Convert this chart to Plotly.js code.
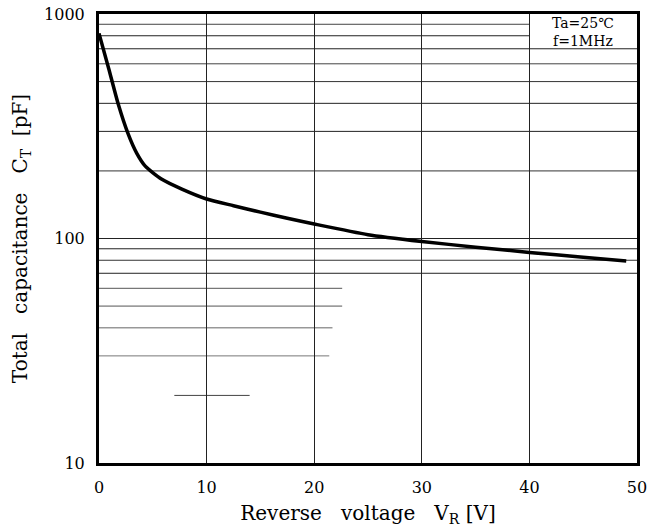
<!DOCTYPE html>
<html>
<head>
<meta charset="utf-8">
<script src="https://cdn.plot.ly/plotly-3.0.1.min.js"></script>
<style>html,body{margin:0;padding:0;background:#fff;}#chart{width:662px;height:530px;}</style>
</head>
<body>
<div id="chart"></div>
<script>
// Data
const reverseVoltage = [0, 0.9, 1.8, 2.7, 3.5, 4.3, 5.8, 7.7, 10, 12.5, 15, 17.5, 20, 25, 30, 35, 40, 45, 49];
const totalCapacitance = [820, 572, 395, 293, 240, 210, 184, 166, 150, 140, 131, 123, 116, 104, 97, 91.5, 86.7, 82.5, 79.3];

// Axis ticks
const xTickVals = [0, 10, 20, 30, 40, 50];
const xTickText = ['0', '10', '20', '30', '40', '50'];
const yTickVals = [10, 100, 1000];
const yTickText = ['10', '100', '1000'];

// Horizontal grid values (log minor lines)
const hGridVals = [20, 30, 40, 50, 60, 70, 80, 90, 100, 200, 300, 400, 500, 600, 700, 800, 900];
// grid line extents / shades (layout only)
const hGridStart = [7, 0, 0, 0, 0, 0, 0, 0, 0, 0, 0, 0, 0, 0, 0, 0, 0];
const hGridEnd   = [14, 21.4, 21.7, 22.6, 22.6, 50, 50, 50, 50, 50, 50, 50, 50, 50, 50, 40, 40];
const hGridColor = ['#444', '#777', '#666', '#555', '#555', '#222', '#333', '#222', '#222', '#333', '#222', '#222', '#333', '#444', '#222', '#222', '#444'];

const shapes = hGridVals.map((v, i) => ({
  type: 'line', xref: 'x', yref: 'y', layer: 'below',
  x0: hGridStart[i], x1: hGridEnd[i], y0: v, y1: v,
  line: {color: hGridColor[i], width: 1}
}));

const serif = 'DejaVu Serif, Liberation Serif, serif';
const NB = '\u00A0';

const trace = {
  x: reverseVoltage, y: totalCapacitance,
  type: 'scatter', mode: 'lines',
  line: {color: '#000', width: 3.5, shape: 'spline', smoothing: 0.6},
  hoverinfo: 'x+y'
};

const layout = {
  width: 662, height: 530,
  margin: {l: 99, r: 25, t: 14, b: 67},
  paper_bgcolor: '#fff', plot_bgcolor: '#fff',
  showlegend: false,
  font: {family: serif, color: '#000', size: 16},
  xaxis: {
    range: [0, 50], tickvals: xTickVals, ticktext: xTickText,
    showgrid: true, gridcolor: '#222', gridwidth: 1,
    zeroline: false, showline: true, mirror: true, linecolor: '#000', linewidth: 3,
    ticks: '', ticklabelstandoff: 8,
    tickfont: {family: serif, size: 16, color: '#000'},
    title: {text: NB + NB + NB + 'Reverse' + NB + NB + NB + 'voltage' + NB + NB + ' V<sub>R</sub> [V]', font: {family: serif, size: 20, color: '#000'}, standoff: 10}
  },
  yaxis: {
    type: 'log', range: [1, 3], tickvals: yTickVals, ticktext: yTickText,
    showgrid: false, zeroline: false, showline: true, mirror: true, linecolor: '#000', linewidth: 3,
    ticks: '', ticklabelstandoff: 8,
    tickfont: {family: serif, size: 16, color: '#000'},
    title: {text: 'Total' + NB + NB + NB + 'capacitance' + NB + NB + ' C<sub>T</sub>' + NB + ' [pF]' + NB + NB + NB + NB + NB, font: {family: serif, size: 20, color: '#000'}, standoff: 12}
  },
  shapes: shapes,
  annotations: [{
    xref: 'x', yref: 'paper', x: 45, y: 1.002, yanchor: 'top', xanchor: 'center',
    text: 'Ta=25\u2103<br>f=1MHz', showarrow: false,
    font: {family: serif, size: 14, color: '#000'}
  }]
};

Plotly.newPlot('chart', [trace], layout, {displayModeBar: false, staticPlot: true});
</script>
</body>
</html>
